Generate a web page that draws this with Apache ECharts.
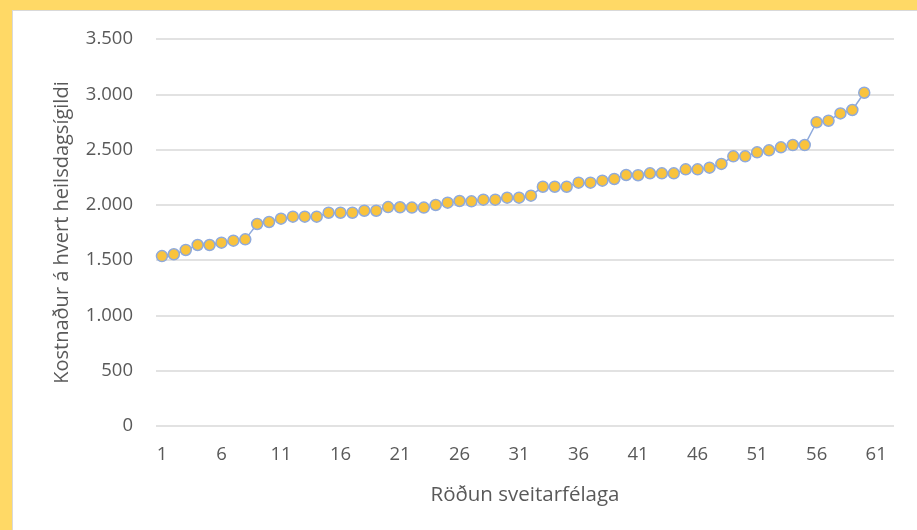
<!DOCTYPE html>
<html>
<head>
<meta charset="utf-8">
<script src="https://cdn.jsdelivr.net/npm/echarts@6/dist/echarts.min.js"></script>
<style>
  html, body { margin: 0; padding: 0; }
  body { width: 917px; height: 530px; background: #FFD966; position: relative; overflow: hidden; }
  #panel { position: absolute; left: 12px; top: 10px; right: 0; bottom: 0; background: #fff;
           border-left: 1px solid #d9d9d9; border-top: 1px solid #d9d9d9; }
  #chart { position: absolute; left: 0; top: 0; width: 917px; height: 530px; }
</style>
</head>
<body>
<div id="panel"></div>
<div id="chart"></div>
<script>
// Rank positions of the municipalities (the axis runs one slot past the last one)
const ranks = [];
for (let i = 1; i <= 62; i++) ranks.push(String(i));

// Cost per full-time equivalent, sorted ascending
const costs = [
  1537, 1553, 1592, 1637, 1637, 1658, 1676, 1688, 1827, 1845,
  1875, 1893, 1893, 1893, 1929, 1929, 1929, 1947, 1947, 1980,
  1978, 1975, 1975, 1999, 2020, 2035, 2032, 2047, 2047, 2065,
  2065, 2083, 2164, 2164, 2164, 2201, 2201, 2219, 2234, 2270,
  2268, 2285, 2285, 2285, 2321, 2321, 2336, 2370, 2439, 2439,
  2475, 2493, 2520, 2541, 2541, 2747, 2761, 2827, 2858, 3014
];

const yTitle = 'Kostnaður á hvert heilsdagsígildi';
const xTitle = 'Röðun sveitarfélaga';

const fmt = v => String(v).replace(/\B(?=(\d{3})+(?!\d))/g, '.');
const textColor = '#595959';
const fontFamily = '"Open Sans", sans-serif';

const chart = echarts.init(document.getElementById('chart'), null, { renderer: 'canvas' });
chart.setOption({
  backgroundColor: 'transparent',
  animation: false,
  grid: { left: 156, right: 23, top: 39, bottom: 104, containLabel: false },
  xAxis: {
    type: 'category',
    data: ranks,
    boundaryGap: true,
    axisLine: { show: false },
    axisTick: { show: false },
    axisLabel: { interval: 4, color: textColor, fontSize: 18.5, fontFamily, margin: 19 },
    name: xTitle,
    nameLocation: 'middle',
    nameGap: 59,
    nameTextStyle: { color: textColor, fontSize: 20.5, fontFamily }
  },
  yAxis: {
    type: 'value',
    min: 0, max: 3500, interval: 500,
    axisLine: { show: false },
    axisTick: { show: false },
    splitLine: { lineStyle: { color: '#d9d9d9', width: 1.5 } },
    axisLabel: { color: textColor, fontSize: 18.5, fontFamily, margin: 23, formatter: fmt },
    name: yTitle,
    nameLocation: 'middle',
    nameGap: 84,
    nameRotate: 90,
    nameTextStyle: { color: textColor, fontSize: 20, fontFamily }
  },
  series: [{
    type: 'line',
    data: costs,
    symbol: 'circle',
    symbolSize: 11,
    showSymbol: true,
    showAllSymbol: true,
    lineStyle: { color: '#8FAADC', width: 1.5 },
    itemStyle: { color: '#F9C33D', borderColor: '#8FAADC', borderWidth: 1.5 }
  }]
});
</script>
</body>
</html>
